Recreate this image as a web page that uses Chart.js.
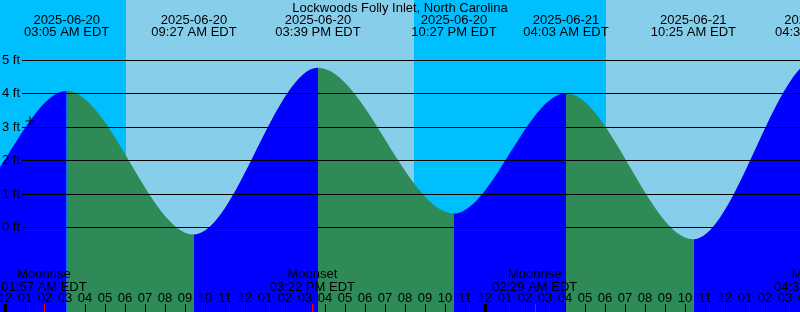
<!DOCTYPE html>
<html>
<head>
<meta charset="utf-8">
<script src="https://cdn.jsdelivr.net/npm/chart.js@4"></script>
<style>
  html, body { margin: 0; padding: 0; background: #87ceeb; }
  #wrap { width: 800px; height: 312px; position: relative; }
</style>
</head>
<body>
<div id="wrap"><canvas id="tideChart"></canvas></div>
<script>
// hours counted from 2025-06-20 00:00 EDT
const tideHours = [-8.8, -2.6, 3.083, 9.45, 15.65, 22.45, 28.05, 34.417, 40.63, 46.9];
const tideFeet  = [4.5, 0.45, 4.09, -0.21, 4.78, 0.42, 4.02, -0.35, 5.05, -0.2];
const tideDates = ['2025-06-19', '2025-06-19', '2025-06-20', '2025-06-20', '2025-06-20', '2025-06-20', '2025-06-21', '2025-06-21', '2025-06-21', '2025-06-21'];
const tideClock = ['02:48 PM EDT', '09:24 PM EDT', '03:05 AM EDT', '09:27 AM EDT', '03:39 PM EDT', '10:27 PM EDT', '04:03 AM EDT', '10:25 AM EDT', '04:38 PM EDT', '10:54 PM EDT'];

const sunrise = [6.05, 30.05];
const sunset  = [20.45, 44.45];

const moonHours = [1.95, 15.367, 26.483, 40.58];
const moonNames = ['Moonrise', 'Moonset', 'Moonrise', 'Moonset'];
const moonClock = ['01:57 AM EDT', '03:22 PM EDT', '02:29 AM EDT', '04:35 PM EDT'];

const ftLevels = [0, 1, 2, 3, 4, 5];
const nowMark = [{x: 1.25, y: 3.19}];

const title = 'Lockwoods Folly Inlet, North Carolina';
const FONT = '13px "Liberation Sans", Arial, sans-serif';
const NIGHT = '#00bfff', DAY = '#87ceeb', FLOOD = '#0000ff', EBB = '#2e8b57';

const hourLabel = h => {
  let v = ((h % 12) + 12) % 12;
  if (v === 0) v = 12;
  return String(v).padStart(2, '0');
};

const decor = {
  id: 'decor',
  beforeDatasetsDraw(chart) {
    const {ctx, chartArea: a, scales: {x}} = chart;
    ctx.save();
    ctx.fillStyle = NIGHT;
    ctx.fillRect(a.left, a.top, a.width, a.height);
    ctx.fillStyle = DAY;
    for (let i = 0; i < sunrise.length; i++) {
      const x0 = x.getPixelForValue(sunrise[i]);
      const x1 = x.getPixelForValue(sunset[i]);
      ctx.fillRect(x0, a.top, x1 - x0, a.height);
    }
    ctx.restore();
  },
  afterDatasetDraw(chart, args) {
    if (args.index !== 0) return;
    const {ctx, chartArea: a, scales: {y}} = chart;
    ctx.save();
    ctx.strokeStyle = '#000';
    ctx.lineWidth = 1;
    ctx.fillStyle = '#000';
    ctx.font = FONT;
    ctx.textAlign = 'left';
    ctx.textBaseline = 'middle';
    ftLevels.forEach(v => {
      const py = Math.floor(y.getPixelForValue(v)) + 0.5;
      ctx.beginPath();
      ctx.moveTo(22, py);
      ctx.lineTo(a.right, py);
      ctx.stroke();
      ctx.fillText(v + ' ft', 2, py);
    });
    ctx.restore();
  },
  afterDraw(chart) {
    const {ctx, chartArea: a, scales: {x}} = chart;
    ctx.save();
    ctx.fillStyle = '#000';
    ctx.font = FONT;
    ctx.textAlign = 'center';
    ctx.textBaseline = 'alphabetic';
    ctx.fillText(title, 400, 12);

    // high / low times along the top
    for (let i = 0; i < tideHours.length; i++) {
      const px = x.getPixelForValue(tideHours[i]);
      if (px < -60 || px > a.right + 60) continue;
      ctx.fillText(tideDates[i], px, 24);
      ctx.fillText(tideClock[i], px, 36);
    }

    // moon events
    for (let i = 0; i < moonHours.length; i++) {
      const px = x.getPixelForValue(moonHours[i]);
      ctx.fillText(moonNames[i], px, 278);
      ctx.fillText(moonClock[i], px, 291);
    }

    // hour ticks
    for (let h = 0; h <= 40; h++) {
      const px = Math.round(x.getPixelForValue(h));
      ctx.fillStyle = '#000';
      ctx.fillText(hourLabel(h), px, 302);
      if (h % 24 === 0) ctx.fillRect(px - 1, 304, 3, 8);
      else ctx.fillRect(px, 304, 1, 8);
    }
    ctx.fillStyle = '#ff0000';
    moonHours.forEach(m => {
      const px = Math.round(x.getPixelForValue(m));
      ctx.fillRect(px, 304, 1, 8);
    });
    ctx.restore();
  }
};

const ctx = document.getElementById('tideChart').getContext('2d');
new Chart(ctx, {
  type: 'line',
  data: {
    datasets: [
      {
        label: 'Tide',
        data: tideHours.map((h, i) => ({x: h, y: tideFeet[i]})),
        cubicInterpolationMode: 'monotone',
        pointRadius: 0,
        borderWidth: 0,
        borderColor: 'transparent',
        backgroundColor: FLOOD,
        fill: 'start',
        order: 1,
        segment: {
          backgroundColor: c => c.p1.parsed.y > c.p0.parsed.y ? FLOOD : EBB
        }
      },
      {
        label: 'Now',
        data: nowMark,
        showLine: false,
        pointStyle: 'cross',
        pointRadius: 4.5,
        borderColor: '#000',
        borderWidth: 1,
        order: 0
      }
    ]
  },
  options: {
    responsive: true,
    maintainAspectRatio: false,
    animation: false,
    events: [],
    layout: { padding: 0, autoPadding: false },
    plugins: { legend: { display: false }, tooltip: { enabled: false } },
    scales: {
      x: { type: 'linear', min: -0.25, max: 39.75, display: false },
      y: { type: 'linear', min: -2.53, max: 6.811, display: false }
    }
  },
  plugins: [decor]
});
</script>
</body>
</html>
